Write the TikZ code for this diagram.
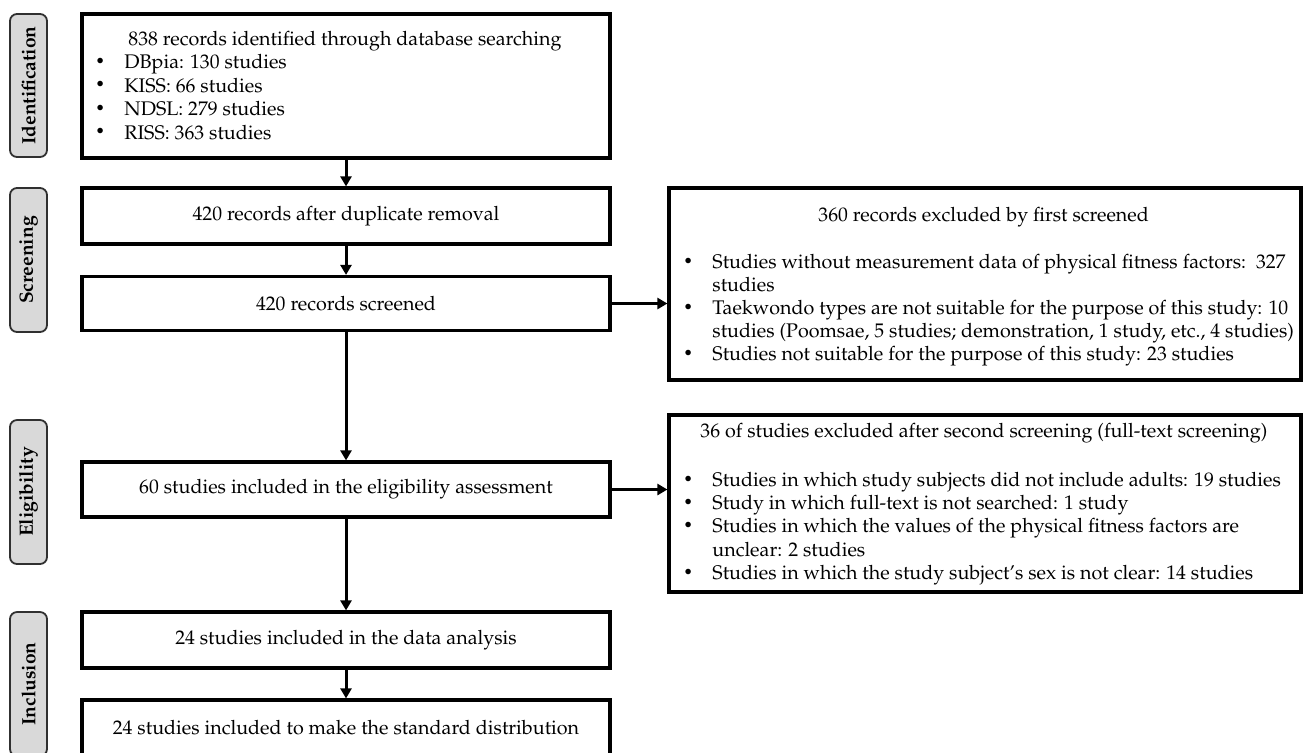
\documentclass[tikz,border=0pt]{standalone}
\usepackage[T1]{fontenc}
\usepackage{mathpazo}
\usetikzlibrary{arrows.meta}
\definecolor{labgray}{HTML}{D9D9D9}
\definecolor{labline}{HTML}{303030}
\newcommand{\smbullet}{\raisebox{0.25ex}{\fontsize{8}{8}\selectfont\textbullet}}
\newcommand{\bitem}[1]{\makebox[14.5pt][l]{\smbullet}#1}
\tikzset{
  every node/.style={font=\fontsize{9.85}{11.5}\selectfont},
  box/.style={draw, line width=1.6pt, minimum width=264pt, inner sep=0pt},
  txt/.style={inner sep=0pt},
  lab/.style={draw=labline, line width=0.9pt, rounded corners=3.5pt, fill=labgray,
    minimum height=18.5pt, inner sep=0pt, rotate=90,
    font=\fontsize{9.6}{11}\selectfont\bfseries},
  arr/.style={line width=1.5pt, -{Triangle[width=5.5pt,length=5pt]}}
}
\begin{document}
\begin{tikzpicture}[x=0.5pt,y=-0.5pt]
\useasboundingbox (0,0) rectangle (1304,752);
\clip (0,0) rectangle (1304,752);
\fill[white] (0,0) rectangle (1304,752);

% stage labels
\node[lab, minimum width=71.5pt] (lid) at (28.5,85.5) {Identification};
\node[lab, minimum width=72pt] (lsc) at (28.5,260) {Screening};
\node[lab, minimum width=72pt] (lel) at (28.5,492) {Eligibility};
\node[lab, minimum width=72pt] (lin) at (28.5,684) {Inclusion};

% main column
\node[box, minimum height=72pt] (b1) at (346,86) {};
\node[txt, anchor=mid west] (b1t) at (128,41) {838 records identified through database searching};
\node[txt, anchor=mid west] (b1a) at (95,64) {\bitem{DBpia: 130 studies}};
\node[txt, anchor=mid west] (b1b) at (95,87.5) {\bitem{KISS: 66 studies}};
\node[txt, anchor=mid west] (b1c) at (95,111) {\bitem{NDSL: 279 studies}};
\node[txt, anchor=mid west] (b1d) at (95,134.5) {\bitem{RISS: 363 studies}};

\node[box, minimum height=28pt] (b2) at (346,216) {420 records after duplicate removal};
\node[box, minimum height=27pt] (b3) at (346,303.5) {420 records screened};
\node[box, minimum height=27.5pt] (b4) at (346,489.5) {60 studies included in the eligibility assessment};
\node[box, minimum height=28pt] (b5) at (346,640) {24 studies included in the data analysis};
\node[box, minimum height=28pt] (b6) at (346,728) {24 studies included to make the standard distribution};

% right boxes
\node[box, minimum width=316pt, minimum height=96pt] (r1) at (985,284) {};
\node[txt, anchor=mid west] (r1t) at (818,217) {360 records excluded by first screened};
\node[txt, anchor=mid west] (r1a) at (683,264) {\bitem{Studies without measurement data of physical fitness factors:\ \ 327}};
\node[txt, anchor=mid west] (r1b) at (712,287) {studies};
\node[txt, anchor=mid west] (r1c) at (683,310) {\bitem{Taekwondo types are not suitable for the purpose of this study: 10}};
\node[txt, anchor=mid west] (r1d) at (712,333) {studies (Poomsae, 5 studies; demonstration, 1 study, etc., 4 studies)};
\node[txt, anchor=mid west] (r1e) at (683,356) {\bitem{Studies not suitable for the purpose of this study: 23 studies}};

\node[box, minimum width=316pt, minimum height=88.5pt] (r2) at (985,503.5) {};
\node[txt, anchor=mid west] (r2t) at (700,433) {36 of studies excluded after second screening (full-text screening)};
\node[txt, anchor=mid west] (r2a) at (683,482) {\bitem{Studies in which study subjects did not include adults: 19 studies}};
\node[txt, anchor=mid west] (r2b) at (683,505) {\bitem{Study in which full-text is not searched: 1 study}};
\node[txt, anchor=mid west] (r2c) at (683,528) {\bitem{Studies in which the values of the physical fitness factors are}};
\node[txt, anchor=mid west] (r2d) at (712,551.5) {unclear: 2 studies};
\node[txt, anchor=mid west] (r2e) at (683,575) {\bitem{Studies in which the study subject's sex is not clear: 14 studies}};

% connectors
\draw[arr] (b1.south) -- (b2.north);
\draw[arr] (b2.south) -- (b3.north);
\draw[arr] (b3.south) -- (b4.north);
\draw[arr] (b4.south) -- (b5.north);
\draw[arr] (b5.south) -- (b6.north);
\draw[arr] (b3.east) -- (b3.east -| r1.west);
\draw[arr] (b4.east) -- (b4.east -| r2.west);
\end{tikzpicture}
\end{document}
